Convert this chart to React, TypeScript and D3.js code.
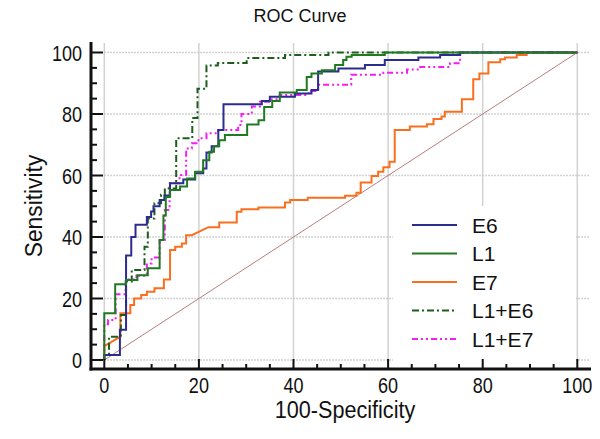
import React from "react";
import * as d3 from "d3";

const xTicks = [0, 20, 40, 60, 80, 100];
const yTicks = [0, 20, 40, 60, 80, 100];
const minorTicks = [5, 10, 15, 25, 30, 35, 45, 50, 55, 65, 70, 75, 85, 90, 95];

const seriesNames = ["E6", "L1", "E7", "L1+E6", "L1+E7"];

const e6: [number, number][] = [
  [0, 0], [0, 1.6], [3.3, 1.6], [3.3, 9.8], [4.6, 9.8], [4.6, 34], [5.7, 34], [5.7, 40], [6.6, 40], [6.6, 44],
  [9, 44], [9, 46.5], [9.9, 46.5], [9.9, 48.3], [10.4, 48.3], [10.4, 50], [11.7, 50], [11.7, 52], [12.7, 52],
  [12.7, 53.5], [13.9, 53.5], [13.9, 57.5], [16.7, 57.5], [16.7, 58.7], [19.2, 58.7], [19.2, 60.7], [20.9, 60.7],
  [20.9, 62.3], [21.6, 62.3], [21.6, 67.5], [22.7, 67.5], [22.7, 69.5], [24.1, 69.5], [24.1, 74.8], [25.2, 74.8],
  [25.2, 83.2], [33.3, 83.2], [33.3, 84.2], [35, 84.2], [35, 85.6], [40.3, 85.6], [40.3, 86.7], [43.8, 86.7],
  [43.8, 87.8], [45.2, 87.8], [45.2, 93.8], [49.5, 93.8], [49.5, 94.8], [55.1, 94.8], [55.1, 95.9], [59.3, 95.9],
  [59.3, 97.6], [66.4, 97.6], [66.4, 98.4], [71, 98.4], [71, 99.2], [75.2, 99.2], [75.2, 100], [100, 100],
];

const l1: [number, number][] = [
  [0, 0], [0, 15.2], [2.3, 15.2], [2.3, 24.6], [4.6, 24.6], [4.6, 26], [7, 26], [7, 27.6], [9.2, 27.6],
  [9.2, 29.8], [11.7, 29.8], [11.7, 39], [12.5, 39], [12.5, 47], [13, 47], [13, 53], [13.9, 53], [13.9, 55.3],
  [16, 55.3], [16, 56.4], [17.5, 56.4], [17.5, 59], [19.2, 59], [19.2, 61.2], [20.9, 61.2], [20.9, 65],
  [22.2, 65], [22.2, 67.7], [23.2, 67.7], [23.2, 69.5], [24.3, 69.5], [24.3, 71.5], [25.5, 71.5], [25.5, 73.2],
  [30.2, 73.2], [30.2, 76.6], [32.6, 76.6], [32.6, 78], [33.8, 78], [33.8, 82.3], [35.5, 82.3], [35.5, 84.2],
  [37.1, 84.2], [37.1, 87], [40.7, 87], [40.7, 87.8], [42.8, 87.8], [42.8, 92], [43.8, 92], [43.8, 93.2],
  [46, 93.2], [46, 94.2], [48.8, 94.2], [48.8, 95.9], [50.5, 95.9], [50.5, 97.6], [51.2, 97.6], [51.2, 98.6],
  [52.3, 98.6], [52.3, 99.2], [59.3, 99.2], [59.3, 100], [100, 100],
];

const e7: [number, number][] = [
  [0, 0], [0, 4.5], [3.4, 7.6], [3.4, 15.2], [5.5, 15.2], [5.5, 17.9], [6.3, 17.9], [6.3, 20], [7.8, 20],
  [7.8, 21.1], [9, 21.1], [9, 22.2], [10.6, 22.2], [10.6, 23.3], [12.6, 23.3], [12.6, 26.2], [13.9, 26.2],
  [13.9, 35.8], [15, 35.8], [15, 36.8], [16.4, 36.8], [16.4, 37.9], [17.3, 37.9], [17.3, 40.6], [18.5, 40.6],
  [22, 43.2], [24.3, 43.2], [24.3, 44.7], [28, 44.7], [28, 48.2], [29, 48.2], [29, 49], [32.6, 49], [32.6, 49.6],
  [38.2, 49.6], [38.2, 51.2], [39.3, 51.2], [39.3, 52], [43, 52], [43, 52.8], [50.9, 52.8], [50.9, 53.4],
  [53.3, 53.4], [53.3, 54.4], [54.2, 54.4], [54.2, 57.7], [56.5, 57.7], [56.5, 59.8], [57.9, 59.8], [57.9, 61.2],
  [59, 61.2], [59, 62.7], [60.3, 62.7], [60.3, 64.5], [61.4, 64.5], [61.4, 74.8], [64.6, 74.8], [64.6, 75.9],
  [68.2, 75.9], [68.2, 76.7], [69.6, 76.7], [69.6, 78.4], [71.3, 78.4], [71.3, 79.2], [72, 79.2], [72, 80.7],
  [75.6, 80.7], [75.6, 84.8], [78, 84.8], [78, 91.3], [79.3, 91.3], [79.3, 93.2], [81.2, 93.2], [81.2, 96.8],
  [83.7, 96.8], [83.7, 97.8], [84.7, 97.8], [84.7, 98.4], [87.2, 98.4], [87.2, 99.2], [89.3, 99.2], [89.3, 100],
  [100, 100],
];

const l1e6: [number, number][] = [
  [0, 0], [0, 1.6], [1, 1.6], [1, 7.6], [3.5, 7.6], [3.5, 14.6], [4.6, 14.6], [4.6, 25.5], [5.8, 25.5],
  [5.8, 29.3], [8.5, 29.3], [8.5, 36.8], [9.2, 36.8], [9.2, 46], [10.6, 46], [10.6, 51], [12, 51], [12, 53.7],
  [12.8, 53.7], [12.8, 55.8], [15.2, 55.8], [15.2, 72.1], [18.6, 72.1], [18.6, 78.7], [19.7, 78.7], [19.7, 88.2],
  [21.6, 88.2], [21.6, 95.8], [24, 95.8], [24, 96.6], [30.1, 96.6], [30.1, 98.2], [38.2, 98.2], [38.2, 99.2],
  [47.4, 99.2], [47.4, 100], [100, 100],
];

const l1e7: [number, number][] = [
  [0, 0], [0, 11.6], [0.8, 11.6], [0.8, 13], [2.4, 13], [2.4, 21.4], [4.5, 21.4], [4.5, 26.2], [6.8, 26.2],
  [6.8, 27.4], [9, 27.4], [9, 31.4], [10, 31.4], [10, 33.3], [11.7, 33.3], [11.7, 39], [12.8, 39], [12.8, 48.8],
  [13.8, 48.8], [13.8, 57.5], [15.9, 57.5], [15.9, 60.2], [17.3, 60.2], [17.3, 68.8], [18.5, 68.8], [18.5, 70.5],
  [19.9, 70.5], [19.9, 72.1], [21.6, 72.1], [21.6, 73.7], [24.1, 73.7], [24.1, 74.8], [28.3, 74.8], [28.3, 76.4],
  [29, 76.4], [29, 80], [31.2, 80], [31.2, 82.4], [32.9, 82.4], [32.9, 84], [35.4, 84], [35.4, 84.8], [37.1, 84.8],
  [37.1, 86.2], [43.2, 86.2], [43.2, 87.5], [45.2, 87.5], [45.2, 89.5], [52.2, 89.5], [52.2, 92.8], [59, 92.8],
  [59, 93.4], [64, 93.4], [64, 94.5], [66.5, 94.5], [66.5, 95.3], [73.1, 95.3], [73.1, 96.5], [75.2, 96.5],
  [75.2, 99.2], [75.9, 99.2], [75.9, 100], [100, 100],
];

const diagonal: [number, number][] = [[0, 0], [100, 100]];

const seriesData = [e6, l1, e7, l1e6, l1e7];
const seriesColors = ["#2b2d8e", "#207a22", "#f8701f", "#1d5e1d", "#f21ef2"];
const seriesDash = ["", "", "", "7,3,2,3", "6,3,2,3,2,3"];

export default function App() {
  const x = d3.scaleLinear().domain([0, 100]).range([104.3, 577.3]);
  const y = d3.scaleLinear().domain([0, 100]).range([360, 52.5]);
  const line = d3
    .line<[number, number]>()
    .x((d) => x(d[0]))
    .y((d) => y(d[1]));

  const axisX = 91;
  const axisY = 369;
  const font = "'Liberation Sans', Arial, sans-serif";

  const legendX = 412;
  const legendY0 = 225;
  const legendStep = 28.5;

  return (
    <svg
      width={600}
      height={439}
      style={{ position: "absolute", left: 0, top: 0, background: "#fff" }}
      fontFamily={font}
    >
      <rect x={0} y={0} width={600} height={439} fill="#fff" />
      {/* vertical grid */}
      {xTicks.map((t) => (
        <line key={"vg" + t} x1={x(t)} x2={x(t)} y1={43} y2={axisY} stroke="#d2d2d2" strokeWidth={1.5} />
      ))}
      {/* horizontal grid */}
      {yTicks.map((t) => (
        <line
          key={"hg" + t}
          x1={x(0)}
          x2={590}
          y1={y(t)}
          y2={y(t)}
          stroke="#c4c4c4"
          strokeWidth={1.3}
          strokeDasharray="1.5,1.5"
        />
      ))}
      {/* legend background */}
      <rect x={393} y={206} width={183} height={157} fill="#fff" />

      {/* diagonal */}
      <path d={line(diagonal) || ""} fill="none" stroke="#b97d7d" strokeWidth={1} />

      {/* curves */}
      {[2, 4, 3, 0, 1].map((i) => (
        <path
          key={"s" + i}
          d={line(seriesData[i]) || ""}
          fill="none"
          stroke={seriesColors[i]}
          strokeWidth={2}
          strokeDasharray={seriesDash[i]}
          strokeLinejoin="miter"
        />
      ))}

      {/* axes */}
      <line x1={axisX} x2={axisX} y1={42} y2={axisY + 1.5} stroke="#111" strokeWidth={3} />
      <line x1={axisX - 1.5} x2={591} y1={axisY} y2={axisY} stroke="#111" strokeWidth={3} />
      {yTicks.map((t) => (
        <line key={"yt" + t} x1={axisX} x2={103} y1={y(t)} y2={y(t)} stroke="#111" strokeWidth={2} />
      ))}
      {minorTicks.map((t) => (
        <line key={"ym" + t} x1={axisX} x2={97} y1={y(t)} y2={y(t)} stroke="#111" strokeWidth={2} />
      ))}
      {xTicks.map((t) => (
        <line key={"xt" + t} x1={x(t)} x2={x(t)} y1={axisY} y2={359} stroke="#111" strokeWidth={2} />
      ))}
      {minorTicks.map((t) => (
        <line key={"xm" + t} x1={x(t)} x2={x(t)} y1={axisY} y2={364} stroke="#111" strokeWidth={2} />
      ))}

      {/* tick labels */}
      {yTicks.map((t) => (
        <text
          key={"yl" + t}
          transform={`translate(82,${y(t) + 8}) scale(0.82,1)`}
          textAnchor="end"
          fontSize={22}
          fill="#111"
        >
          {t}
        </text>
      ))}
      {xTicks.map((t) => (
        <text
          key={"xl" + t}
          transform={`translate(${x(t)},393) scale(0.82,1)`}
          textAnchor="middle"
          fontSize={22}
          fill="#111"
        >
          {t}
        </text>
      ))}

      {/* titles */}
      <text x={300} y={22} textAnchor="middle" fontSize={18} fill="#111">
        ROC Curve
      </text>
      <text transform="translate(345,418) scale(0.9,1)" textAnchor="middle" fontSize={24} fill="#111">
        100-Specificity
      </text>
      <text transform="translate(42,206) rotate(-90) scale(0.95,1)" textAnchor="middle" fontSize={24} fill="#111">
        Sensitivity
      </text>

      {/* legend */}
      {seriesNames.map((name, i) => (
        <g key={"lg" + name}>
          <line
            x1={legendX}
            x2={legendX + 45}
            y1={legendY0 + i * legendStep}
            y2={legendY0 + i * legendStep}
            stroke={seriesColors[i]}
            strokeWidth={2}
            strokeDasharray={seriesDash[i]}
          />
          <text x={472} y={legendY0 + i * legendStep + 7.5} fontSize={21} fill="#111">
            {name}
          </text>
        </g>
      ))}
    </svg>
  );
}
